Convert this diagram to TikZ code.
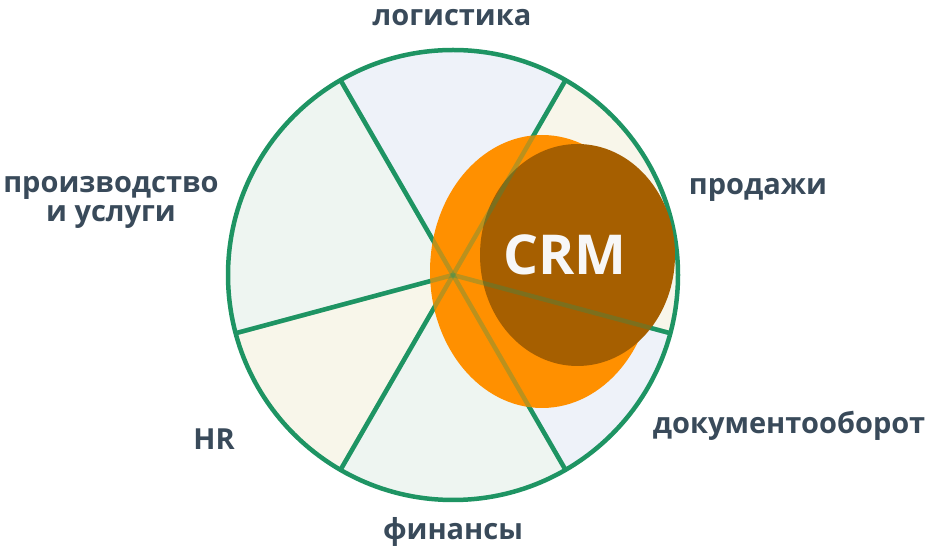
\documentclass[tikz,border=0pt]{standalone}
\usepackage{fontspec}
\setmainfont{Open Sans}
\definecolor{rim}{HTML}{1E9463}
\definecolor{ink}{HTML}{394A5A}
\definecolor{paleblue}{HTML}{EEF2F9}
\definecolor{palegreen}{HTML}{EEF5F1}
\definecolor{palecream}{HTML}{F8F6EA}
\definecolor{crmorange}{HTML}{FF9000}
\definecolor{crmbrown}{HTML}{A65F00}
\usetikzlibrary{positioning}

\begin{document}
\begin{tikzpicture}[x=1pt,y=1pt,
  area/.style={font=\fontsize{29}{29}\selectfont\bfseries,text=ink,anchor=base,inner sep=0pt,align=center},
  spoke/.style={draw=rim,line width=4.5pt}]
\useasboundingbox (0,0) rectangle (929,546);
\coordinate (C) at (453,271);

% sectors
\foreach \a/\b/\col in {60/120/paleblue,120/195/palegreen,195/240/palecream,240/300/palegreen,300/345/paleblue,345/420/palecream}
  \fill[\col] (C) -- ([shift={(\a:225)}]C) arc[start angle=\a,end angle=\b,radius=225] -- cycle;

% spokes and rim
\foreach \a [count=\i] in {60,120,195,240,300,345} {
  \coordinate (s\i) at ([shift={(\a:225)}]C);
  \draw[spoke] (C) -- (s\i);
}
\draw[spoke] (C) circle[radius=225];

% CRM blobs
\fill[crmorange] (542,274.5) ellipse[x radius=112,y radius=136.5];
\fill[crmbrown] (577.5,291) ellipse[x radius=97.5,y radius=111];
\foreach \i in {1,...,6}
  \draw[spoke,opacity=0.3] (C) -- (s\i);
\node[font=\fontsize{55}{55}\selectfont\bfseries,text=white!97!black,anchor=base,inner sep=0pt] (crm) at (565,271) {CRM};

% areas
\node[area] (logistics) at (452,520) {логистика};
\node[area] (sales) at (758,351) {продажи};
\node[area] (production) at (111,324) {производство\\и услуги};
\node[area] (hr) at (214,96) {HR};
\node[area] (documents) at (789,112) {документооборот};
\node[area] (finance) at (453,6) {финансы};
\end{tikzpicture}
\end{document}
